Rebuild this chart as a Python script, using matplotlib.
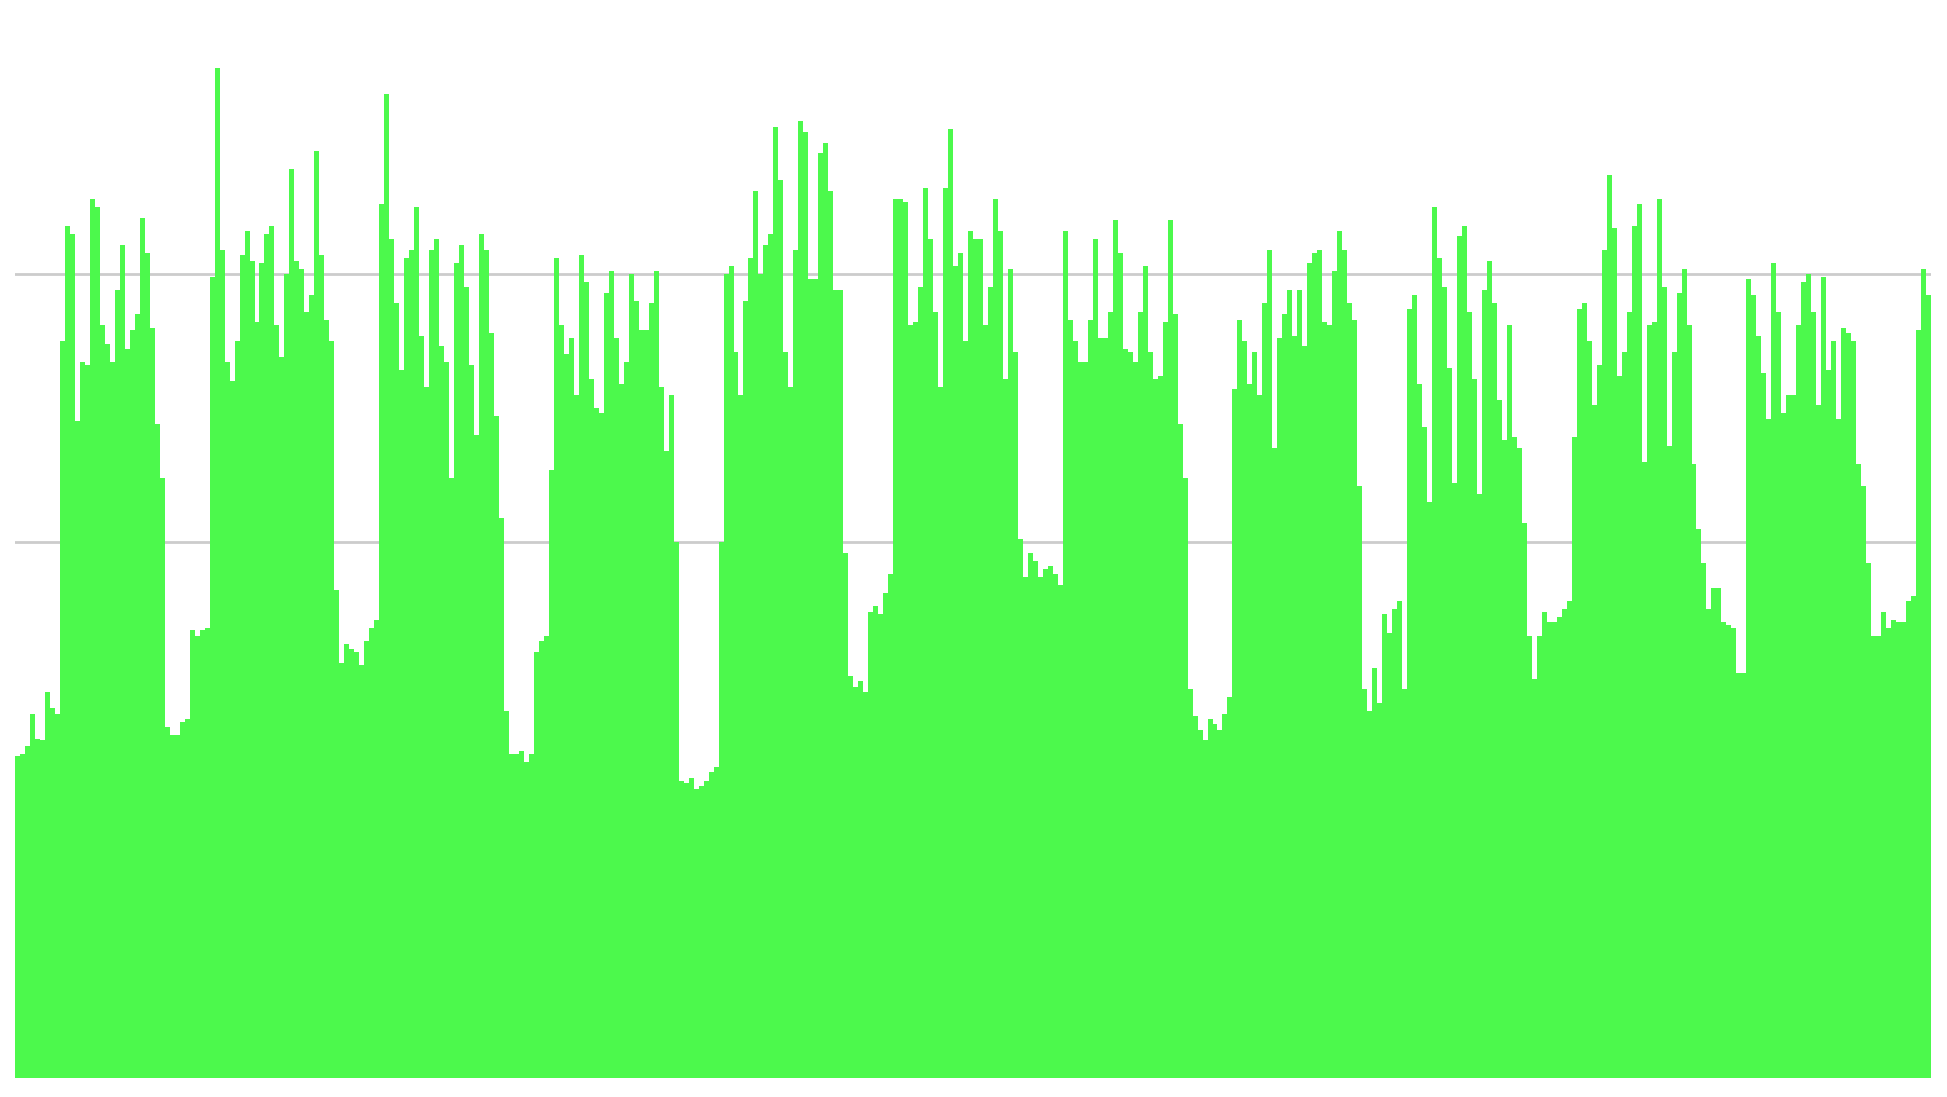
import matplotlib
matplotlib.use("Agg")
import matplotlib.pyplot as plt

# bar heights, read left to right off the reference (384 bars)
values = [
    12.0, 12.1, 12.4, 13.6, 12.65, 12.6, 14.4, 13.8, 13.6, 27.5,
    31.8, 31.5, 24.5, 26.7, 26.6, 32.8, 32.5, 28.1, 27.4, 26.7,
    29.4, 31.1, 27.2, 27.9, 28.5, 32.1, 30.8, 28.0, 24.4, 22.4,
    13.1, 12.8,
    12.8, 13.3, 13.4, 16.7, 16.5, 16.7, 16.8, 29.9, 37.7, 30.9,
    26.7, 26.0, 27.5, 30.7, 31.6, 30.5, 28.2, 30.4, 31.5, 31.8,
    28.1, 26.9, 30.0, 33.9, 30.5, 30.2, 28.6, 29.2, 34.6, 30.7,
    28.3, 27.5,
    18.2, 15.5, 16.2, 16.0, 15.9, 15.4, 16.3, 16.8, 17.1, 32.6,
    36.7, 31.3, 28.9, 26.4, 30.6, 30.9, 32.5, 27.7, 25.8, 30.9,
    31.3, 27.3, 26.7, 22.4, 30.4, 31.1, 29.5, 26.6, 24.0, 31.5,
    30.9, 27.8,
    24.7, 20.9, 13.7, 12.1, 12.1, 12.2, 11.8, 12.1, 15.9, 16.3,
    16.5, 22.7, 30.6, 28.1, 27.0, 27.6, 25.5, 30.7, 29.7, 26.1,
    25.0, 24.8, 29.3, 30.1, 27.6, 25.9, 26.7, 30.0, 29.0, 27.9,
    27.9, 28.9,
    30.1, 25.8, 23.4, 25.5, 20.0, 11.1, 11.0, 11.2, 10.8, 10.9,
    11.1, 11.4, 11.6, 20.0, 30.0, 30.3, 27.1, 25.5, 29.0, 30.6,
    33.1, 30.0, 31.1, 31.5, 35.5, 33.5, 27.1, 25.8, 30.9, 35.7,
    35.3, 29.8,
    29.8, 34.5, 34.9, 33.1, 29.4, 29.4, 19.6, 15.0, 14.6, 14.8,
    14.4, 17.4, 17.6, 17.3, 18.1, 18.8, 32.8, 32.8, 32.7, 28.1,
    28.2, 29.5, 33.2, 31.3, 28.6, 25.8, 33.2, 35.4, 30.3, 30.8,
    27.5, 31.6,
    31.3, 31.3, 28.1, 29.5, 32.8, 31.6, 26.1, 30.2, 27.1, 20.1,
    18.7, 19.6, 19.3, 18.7, 19.0, 19.1, 18.8, 18.4, 31.6, 28.3,
    27.5, 26.7, 26.7, 28.3, 31.3, 27.6, 27.6, 28.6, 32.0, 30.8,
    27.2, 27.1,
    26.7, 28.6, 30.3, 27.1, 26.1, 26.2, 28.2, 32.0, 28.5, 24.4,
    22.4, 14.5, 13.5, 13.0, 12.6, 13.4, 13.2, 13.0, 13.6, 14.2,
    25.7, 28.3, 27.5, 25.9, 27.1, 25.5, 28.9, 30.9, 23.5, 27.6,
    28.5, 29.4,
    27.7, 29.4, 27.3, 30.4, 30.8, 30.9, 28.2, 28.1, 30.1, 31.6,
    30.9, 28.9, 28.3, 22.1, 14.5, 13.7, 15.3, 14.0, 17.3, 16.6,
    17.5, 17.8, 14.5, 28.7, 29.2, 25.9, 24.3, 21.5, 32.5, 30.6,
    29.5, 26.5,
    22.2, 31.4, 31.8, 28.6, 26.1, 21.8, 29.4, 30.5, 28.9, 25.3,
    23.8, 28.1, 23.9, 23.5, 20.7, 16.5, 14.9, 16.5, 17.4, 17.0,
    17.0, 17.2, 17.5, 17.8, 23.9, 28.7, 28.9, 27.5, 25.1, 26.6,
    30.9, 33.7,
    31.7, 26.2, 27.1, 28.6, 31.8, 32.6, 23.0, 28.1, 28.2, 32.8,
    29.5, 23.6, 27.1, 29.3, 30.2, 28.1, 22.9, 20.5, 19.2, 17.5,
    18.3, 18.3, 17.0, 16.9, 16.8, 15.1, 15.1, 29.8, 29.2, 27.7,
    26.3, 24.6,
    30.4, 28.6, 24.8, 25.5, 25.5, 28.1, 29.7, 30.0, 28.6, 25.1,
    29.9, 26.4, 27.5, 24.6, 28.0, 27.8, 27.5, 22.9, 22.1, 19.2,
    16.5, 16.5, 17.4, 16.8, 17.1, 17.0, 17.0, 17.8, 18.0, 27.9,
    30.2, 29.2,
]
grid_levels = [10, 20, 30]

bar_color = "#4cf94c"

fig = plt.figure(figsize=(19.47, 10.97), dpi=100)
ax = fig.add_axes([15 / 1947, 19 / 1097, 1916 / 1947, 1072 / 1097])

for g in grid_levels:
    ax.axhline(g, color="#cccccc", linewidth=2, zorder=1)

ax.bar(range(len(values)), values, width=1.0, color=bar_color,
       linewidth=0, antialiased=False, zorder=2)

ax.set_xlim(-0.5, len(values) - 0.5)
ax.set_ylim(0, 40)
ax.axis("off")

fig.savefig("out.png", dpi=100)
